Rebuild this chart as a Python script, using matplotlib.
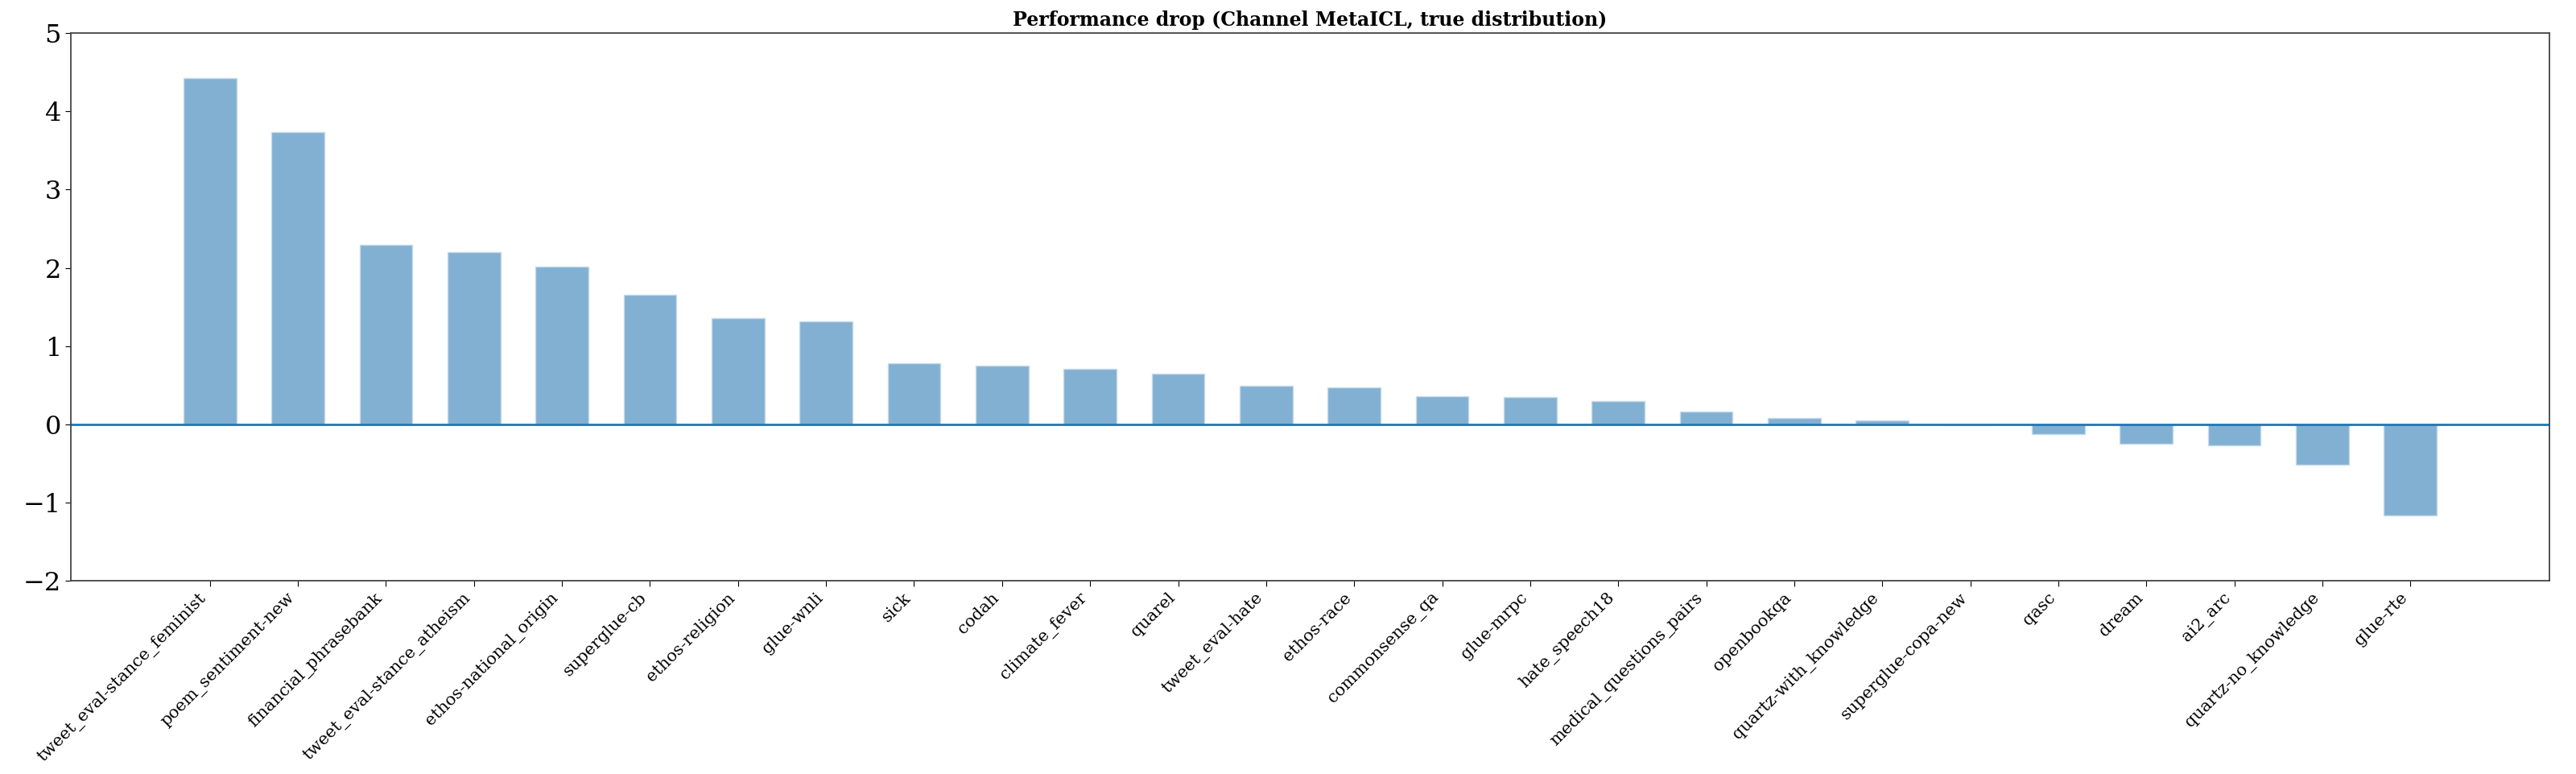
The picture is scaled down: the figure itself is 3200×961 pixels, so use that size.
import matplotlib
matplotlib.use('Agg')
import matplotlib.pyplot as plt
import numpy as np

# tasks sorted by drop
tasks = ['tweet_eval-stance_feminist', 'poem_sentiment-new', 'financial_phrasebank',
         'tweet_eval-stance_atheism', 'ethos-national_origin', 'superglue-cb',
         'ethos-religion', 'glue-wnli', 'sick', 'codah', 'climate_fever', 'quarel',
         'tweet_eval-hate', 'ethos-race', 'commonsense_qa', 'glue-mrpc', 'hate_speech18',
         'medical_questions_pairs', 'openbookqa', 'quartz-with_knowledge',
         'superglue-copa-new', 'qasc', 'dream', 'ai2_arc', 'quartz-no_knowledge', 'glue-rte']
drops = [4.43, 3.74, 2.29, 2.20, 2.02, 1.65, 1.36, 1.31, 0.78, 0.75, 0.71, 0.65,
         0.49, 0.47, 0.36, 0.35, 0.29, 0.16, 0.08, 0.05, 0.0, -0.13, -0.25, -0.27,
         -0.52, -1.17]

plt.rcParams['font.family'] = 'DejaVu Serif'

fig = plt.figure(figsize=(32, 9.61), dpi=100)
ax = fig.add_axes([0.0275, 0.250, 0.9622, 0.707])

x = np.arange(len(tasks))
ax.bar(x, drops, width=0.6, color='#82b0d3', edgecolor='#c5dbec', linewidth=1)
ax.axhline(0, color='#1f77b4', linewidth=2)

ax.set_xlim(-1.58, len(tasks) - 1 + 1.58)
ax.set_ylim(-2, 5)
ax.set_xticks(x)
ax.set_xticklabels(tasks, rotation=45, ha='right', fontsize=15)
ax.tick_params(axis='y', labelsize=23, length=5)
ax.tick_params(axis='x', length=5)
for s in ax.spines.values():
    s.set_color('#444444')
    s.set_linewidth(1.3)

ax.set_title('Performance drop (Channel MetaICL, true distribution)',
             fontsize=17, fontweight='bold', pad=7)

fig.savefig('out.png', dpi=100)
